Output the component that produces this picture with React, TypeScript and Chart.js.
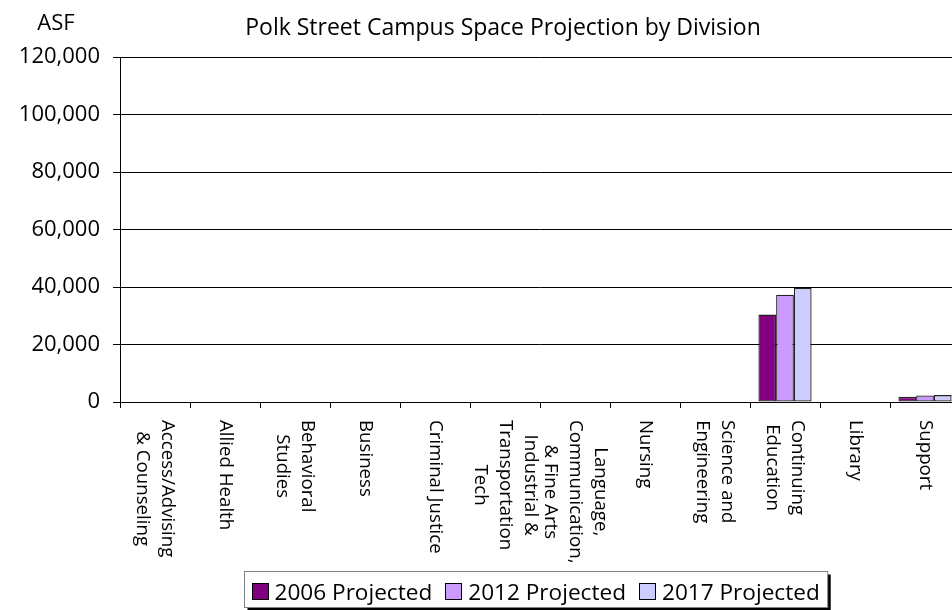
import React, { useEffect, useRef } from "react";
import { Chart, registerables } from "chart.js";

Chart.register(...registerables);

const chartTitle = "Polk Street Campus Space Projection by Division";
const yAxisTitle = "ASF";

const categories: string[][] = [
  ["Access/Advising", "& Counseling"],
  ["Allied Health"],
  ["Behavioral", "Studies"],
  ["Business"],
  ["Criminal Justice"],
  ["Industrial &", "Transportation", "Tech"],
  ["Language,", "Communication,", "& Fine Arts"],
  ["Nursing"],
  ["Science and", "Engineering"],
  ["Continuing", "Education"],
  ["Library"],
  ["Support"],
];

const seriesLabels = ["2006 Projected", "2012 Projected", "2017 Projected"];
const seriesColors = ["#800080", "#CC99FF", "#CCCCFF"];

const projected2006 = [0, 0, 0, 0, 0, 0, 0, 0, 0, 30400, 0, 1800];
const projected2012 = [0, 0, 0, 0, 0, 0, 0, 0, 0, 37300, 0, 2300];
const projected2017 = [0, 0, 0, 0, 0, 0, 0, 0, 0, 39700, 0, 2400];

const yMin = 0;
const yMax = 120000;
const yStep = 20000;

const FONT = '"Open Sans", "Liberation Sans", sans-serif';

const decorPlugin = {
  id: "decor",
  afterDraw(chart: any) {
    const ctx: CanvasRenderingContext2D = chart.ctx;
    const xScale = chart.scales.x;
    ctx.save();
    ctx.fillStyle = "#000";

    // Title
    ctx.font = `23px ${FONT}`;
    ctx.textAlign = "center";
    ctx.textBaseline = "alphabetic";
    ctx.fillText(chartTitle, 503, 35);

    // Y axis title
    ctx.font = `22px ${FONT}`;
    ctx.fillText(yAxisTitle, 56, 30);

    // Category labels, rotated 90deg clockwise, lines centred
    ctx.font = `18.7px ${FONT}`;
    const lineH = 25;
    const top = chart.chartArea.bottom + 18;
    categories.forEach((lines, i) => {
      const x = xScale.getPixelForValue(i);
      const widths = lines.map((l) => ctx.measureText(l).width);
      const W = Math.max(...widths);
      ctx.save();
      ctx.translate(x, top);
      ctx.rotate(Math.PI / 2);
      ctx.textAlign = "center";
      ctx.textBaseline = "middle";
      const n = lines.length;
      lines.forEach((l, j) => {
        ctx.fillText(l, W / 2, (j - (n - 1) / 2) * lineH);
      });
      ctx.restore();
    });

    // Legend
    ctx.font = `22.6px ${FONT}`;
    ctx.textAlign = "left";
    ctx.textBaseline = "alphabetic";
    const datasets = chart.data.datasets;
    const box = 16;
    const boxGap = 7;
    const itemGap = 13;
    const padL = 7;
    const padR = 8;
    const textWs = datasets.map((d: any) => ctx.measureText(d.label).width);
    let total = padL + padR;
    textWs.forEach((w: number, i: number) => {
      total += box + boxGap + w + (i < textWs.length - 1 ? itemGap : 0);
    });
    const cx = 535.5;
    const fx = Math.round(cx - total / 2) + 0.5;
    const fy = 571.5;
    const fh = 36;
    // shadow
    ctx.fillStyle = "#000";
    ctx.fillRect(fx + 3, fy + 3, total, fh);
    ctx.fillStyle = "#fff";
    ctx.fillRect(fx, fy, total, fh);
    ctx.strokeStyle = "#808080";
    ctx.lineWidth = 1;
    ctx.strokeRect(fx, fy, total, fh);
    let x = fx + padL;
    datasets.forEach((d: any, i: number) => {
      ctx.fillStyle = d.backgroundColor;
      ctx.fillRect(Math.round(x) + 0.5, 583.5, box, box);
      ctx.strokeStyle = "#000";
      ctx.strokeRect(Math.round(x) + 0.5, 583.5, box, box);
      x += box + boxGap;
      ctx.fillStyle = "#000";
      ctx.fillText(d.label, x, 599.5);
      x += textWs[i] + itemGap;
    });
    ctx.restore();
  },
};

export default function App() {
  const canvasRef = useRef<HTMLCanvasElement | null>(null);

  useEffect(() => {
    const canvas = canvasRef.current;
    if (!canvas) return;
    const data = [projected2006, projected2012, projected2017];
    const chart = new Chart(canvas, {
      type: "bar",
      data: {
        labels: categories.map((c) => c.join(" ")),
        datasets: seriesLabels.map((label, i) => ({
          label,
          data: data[i],
          backgroundColor: seriesColors[i],
          borderColor: "#222",
          borderWidth: 1.3,
          borderSkipped: false,
          categoryPercentage: 0.76,
          barPercentage: 1,
        })),
      },
      options: {
        animation: false,
        responsive: false,
        devicePixelRatio: 1,
        layout: { padding: { left: 0, top: 57, right: 20, bottom: 0 } },
        plugins: {
          legend: { display: false },
          title: { display: false },
          tooltip: { enabled: false },
        },
        scales: {
          x: {
            ticks: { display: false },
            grid: {
              drawOnChartArea: false,
              drawTicks: true,
              tickLength: 6,
              color: "#000",
              offset: true,
            },
            border: { display: true, color: "#000", width: 1 },
            afterFit: (s: any) => {
              s.height = 208;
            },
          },
          y: {
            min: yMin,
            max: yMax,
            ticks: {
              stepSize: yStep,
              color: "#000",
              padding: 13,
              font: { family: FONT, size: 22 },
              callback: (v: any) => Number(v).toLocaleString("en-US"),
            },
            grid: { color: "#000", lineWidth: 1, tickLength: 7, drawTicks: true },
            border: { display: true, color: "#000", width: 1 },
            afterFit: (s: any) => {
              s.width = 120;
            },
          },
        },
      },
      plugins: [decorPlugin],
    });
    return () => chart.destroy();
  }, []);

  return (
    <div
      style={{
        position: "fixed",
        left: 0,
        top: 0,
        width: 952,
        height: 610,
        overflow: "hidden",
        background: "#fff",
      }}
    >
      <canvas ref={canvasRef} width={980} height={610} style={{ display: "block" }} />
    </div>
  );
}
